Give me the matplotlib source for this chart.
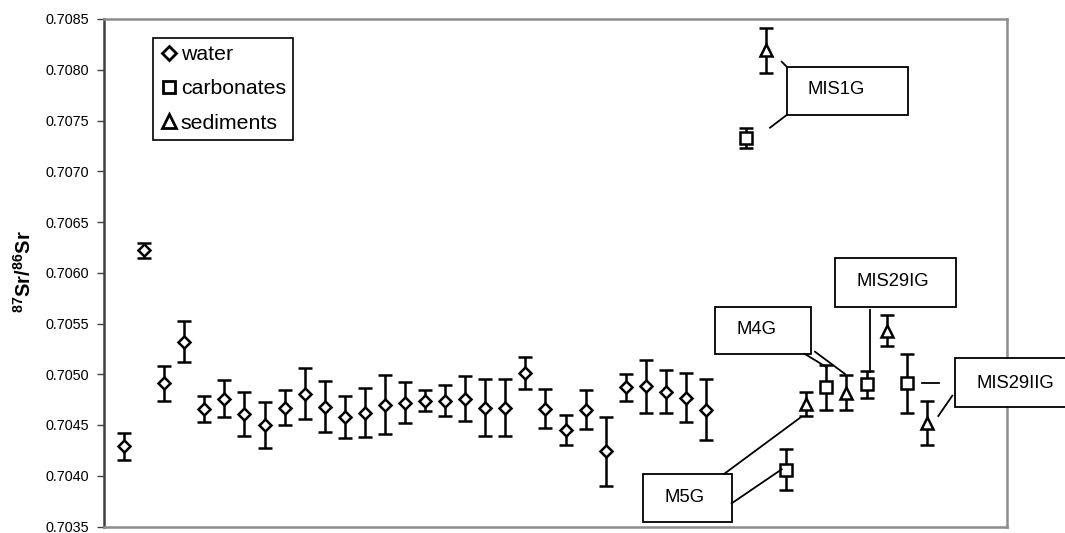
import matplotlib
matplotlib.use('Agg')
import matplotlib.pyplot as plt
from matplotlib.transforms import Affine2D
from matplotlib.patches import Rectangle
from matplotlib.lines import Line2D

# ---------------- data ----------------
water_x = list(range(1, 31))
water_y = [0.70429, 0.70622, 0.70491, 0.70532, 0.70466, 0.70476, 0.70461, 0.70450,
           0.70467, 0.70481, 0.70468, 0.70458, 0.70462, 0.70470, 0.70472, 0.70474,
           0.70474, 0.70476, 0.70467, 0.70467, 0.70501, 0.70466, 0.70445, 0.70465,
           0.70424, 0.70487, 0.70488, 0.70483, 0.70477, 0.70465]
water_err = [0.00013, 0.00007, 0.00017, 0.00020, 0.00013, 0.00018, 0.00022, 0.00023,
             0.00017, 0.00025, 0.00025, 0.00021, 0.00024, 0.00029, 0.00020, 0.00010,
             0.00015, 0.00022, 0.00028, 0.00028, 0.00016, 0.00019, 0.00015, 0.00019,
             0.00034, 0.00013, 0.00026, 0.00021, 0.00024, 0.00030]

carb_x = [32, 34, 36, 38, 40]
carb_y = [0.70733, 0.70406, 0.70487, 0.70490, 0.70491]
carb_err = [0.00010, 0.00020, 0.00022, 0.00013, 0.00029]

sed_x = [33, 35, 37, 39, 41]
sed_y = [0.70819, 0.70471, 0.70482, 0.70543, 0.70452]
sed_err = [0.00022, 0.00012, 0.00017, 0.00015, 0.00022]

series_labels = ['water', 'carbonates', 'sediments']
y_ticks = [0.7035, 0.7040, 0.7045, 0.7050, 0.7055, 0.7060, 0.7065, 0.7070,
           0.7075, 0.7080, 0.7085]
callout_labels = ['MIS1G', 'M4G', 'MIS29IG', 'MIS29IIG', 'M5G']

# ---------------- style ----------------
plt.rcParams['font.family'] = ['Liberation Sans', 'DejaVu Sans']
plt.rcParams['mathtext.fontset'] = 'custom'
plt.rcParams['mathtext.rm'] = 'Liberation Sans'
plt.rcParams['mathtext.bf'] = 'Liberation Sans:bold'

W, H = 1065, 533
fig = plt.figure(figsize=(W / 100, H / 100), dpi=100)
ax = fig.add_axes([104 / W, 1 - 526.5 / H, 903 / W, 507.5 / H])
pix = Affine2D().scale(1 / W, -1 / H).translate(0, 1) + fig.transFigure

common = dict(mfc='white', mec='black', mew=1.8, ecolor='black',
              elinewidth=1.8, capsize=5.2, capthick=1.8, ls='none')
ax.errorbar(water_x, water_y, yerr=water_err, fmt='D', ms=6.5, **common)
ax.errorbar(carb_x, carb_y, yerr=carb_err, fmt='s', ms=8, **common)
ax.errorbar(sed_x, sed_y, yerr=sed_err, fmt='^', ms=9, **common)

ax.set_xlim(0, 45)
ax.set_ylim(0.7035, 0.7085)
ax.set_yticks(y_ticks)
ax.set_yticklabels([f'{v:.4f}' for v in y_ticks], fontsize=10.4)
ax.tick_params(axis='y', direction='out', length=5, width=1, color='#404040', pad=6)
ax.set_xticks([])
for side in ['top', 'right', 'bottom']:
    ax.spines[side].set_color('#8c8c8c')
    ax.spines[side].set_linewidth(1.8)
ax.spines['left'].set_color('#404040')
ax.spines['left'].set_linewidth(1.8)

fig.text(24, 272, r'$\mathbf{^{87}Sr/^{86}Sr}$', transform=pix, rotation=90,
         ha='center', va='center', fontsize=14.5)

# legend
hkw = dict(mfc='white', mec='black', mew=2.0, ls='none')
handles = [Line2D([], [], marker='D', ms=7.0, **hkw),
           Line2D([], [], marker='s', ms=8.5, **hkw),
           Line2D([], [], marker='^', ms=10, **hkw)]
leg = ax.legend(handles, series_labels, loc='upper left',
                bbox_to_anchor=(153.3 / W, 1 - 37.5 / H), bbox_transform=fig.transFigure,
                borderaxespad=0, fontsize=15.3, frameon=True, fancybox=False,
                edgecolor='black', framealpha=1, borderpad=0.35, labelspacing=0.72,
                handlelength=0.8, handletextpad=0.15)
leg.get_frame().set_linewidth(1.2)

# callouts (figure pixel layout)
boxes = {
    'MIS1G': (786.7, 66.7, 907.7, 115.0, 807.7, 90.0),
    'M4G': (715.0, 306.7, 811.0, 354.0, 736.0, 329.0),
    'MIS29IG': (835.0, 258.3, 956.0, 306.7, 856.0, 281.0),
    'MIS29IIG': (955.0, 358.3, 1080.0, 406.7, 976.0, 383.0),
    'M5G': (643.3, 474.0, 731.7, 522.3, 664.3, 497.0),
}
leaders = {
    'MIS1G': [((786.7, 66.7), (781.7, 61.7)), ((786.7, 115.0), (770.0, 127.7))],
    'M4G': [((805.0, 354.0), (826.7, 367.3)), ((815.0, 351.7), (845.0, 374.0))],
    'MIS29IG': [((870.0, 310.0), (870.0, 371.7))],
    'MIS29IIG': [((921.7, 382.7), (939.3, 382.7)), ((952.3, 395.7), (938.3, 416.0))],
    'M5G': [((724.0, 474.0), (800.7, 417.3)), ((731.7, 503.3), (781.7, 469.3))],
}
for name in callout_labels:
    x0, y0, x1, y1, tx, ty = boxes[name]
    fig.add_artist(Rectangle((x0, y1), x1 - x0, y0 - y1, transform=pix,
                             facecolor='white', edgecolor='black', lw=1.3, zorder=6))
    fig.text(tx, ty, name, transform=pix, ha='left', va='center', fontsize=13.3, zorder=7)
    for (a, b) in leaders[name]:
        fig.add_artist(Line2D([a[0], b[0]], [a[1], b[1]], transform=pix,
                              color='black', lw=1.3, zorder=6))

fig.savefig('out.png', dpi=100)
